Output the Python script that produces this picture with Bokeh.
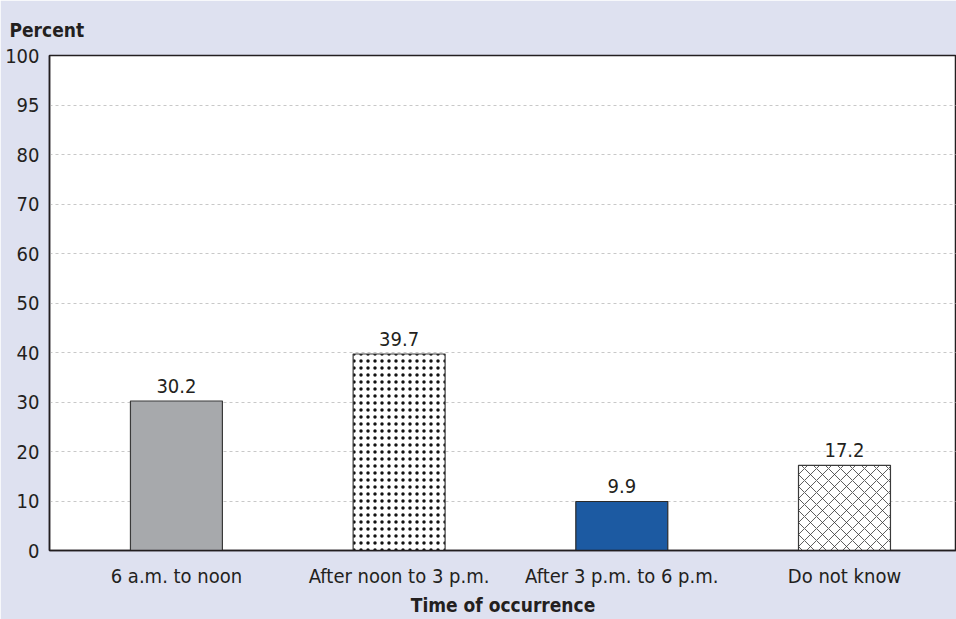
from bokeh.plotting import figure
from bokeh.models import Range1d, FixedTicker, ColumnDataSource, LabelSet
from bokeh.embed import file_html
from bokeh.resources import INLINE
from bokeh.core.properties import value

categories = ["6 a.m. to noon", "After noon to 3 p.m.", "After 3 p.m. to 6 p.m.", "Do not know"]
percents = [30.2, 39.7, 9.9, 17.2]
y_ticks = [0, 10, 20, 30, 40, 50, 60, 70, 80, 90, 100]
y_tick_labels = ["0", "10", "20", "30", "40", "50", "60", "70", "80", "95", "100"]

FONT = "'DejaVu Sans Condensed', Roboto, sans-serif"
BG = "#dee1f0"
DARK = "#231f20"

xs = list(range(len(categories)))

p = figure(width=956, height=619, output_backend="svg", toolbar_location=None,
           x_range=Range1d(-0.57, 3.503), y_range=Range1d(0, 100),
           min_border_left=49, min_border_right=0, min_border_bottom=69, min_border_top=55)
p.background_fill_color = "white"
p.border_fill_color = BG
p.outline_line_color = DARK
p.outline_line_width = 1.5

p.title.text = "Percent"
p.title.text_font = FONT
p.title.text_font_size = "19px"
p.title.text_font_style = "bold"
p.title.text_color = DARK
p.title.align = "left"
p.title.offset = -40
p.title.standoff = 30

src = ColumnDataSource(dict(x=xs, top=percents, label=[f"{v:.1f}" for v in percents]))

w = 0.413
p.vbar(x=[xs[0]], top=[percents[0]], width=w, fill_color="#a7a9ac", line_color="#3a3a3a", line_width=1.2)
p.vbar(x=[xs[1]], top=[percents[1]], width=w, fill_color="white", line_color="#3a3a3a", line_width=1.2,
       hatch_pattern="dot", hatch_color="#111111", hatch_scale=7, hatch_weight=2.2)
p.vbar(x=[xs[2]], top=[percents[2]], width=w, fill_color="#1c5aa2", line_color="#2a2a2a", line_width=1.2)
p.vbar(x=[xs[3]], top=[percents[3]], width=w, fill_color="white", line_color="#3a3a3a", line_width=1.2,
       hatch_pattern="diagonal_cross", hatch_color="#333333", hatch_scale=12, hatch_weight=0.8)

labels = LabelSet(x="x", y="top", text="label", source=src, text_align="center", text_baseline="bottom",
                  y_offset=8, text_font=value(FONT), text_font_size="20px", text_color=DARK)
p.add_layout(labels)

p.yaxis.ticker = FixedTicker(ticks=y_ticks)
p.yaxis.major_label_overrides = {t: l for t, l in zip(y_ticks, y_tick_labels)}
p.xaxis.ticker = FixedTicker(ticks=xs)
p.xaxis.major_label_overrides = {i: c for i, c in zip(xs, categories)}

for ax in (p.xaxis, p.yaxis):
    ax.major_tick_line_color = None
    ax.minor_tick_line_color = None
    ax.major_tick_out = 0
    ax.major_tick_in = 0
    ax.axis_line_color = DARK
    ax.axis_line_width = 1.5
    ax.major_label_text_font = FONT
    ax.major_label_text_font_size = "20px"
    ax.major_label_text_color = DARK

p.yaxis.major_label_standoff = 10
p.xaxis.major_label_standoff = 13
p.xaxis.axis_label = "Time of occurrence"
p.xaxis.axis_label_text_font = FONT
p.xaxis.axis_label_text_font_size = "19px"
p.xaxis.axis_label_text_font_style = "bold"
p.xaxis.axis_label_text_color = DARK
p.xaxis.axis_label_standoff = 3

p.xgrid.grid_line_color = None
p.ygrid.ticker = FixedTicker(ticks=y_ticks)
p.ygrid.grid_line_color = "#c8c8c8"
p.ygrid.grid_line_dash = "3 3"
p.ygrid.grid_line_width = 1

open("out.html", "w").write(file_html(p, INLINE))
